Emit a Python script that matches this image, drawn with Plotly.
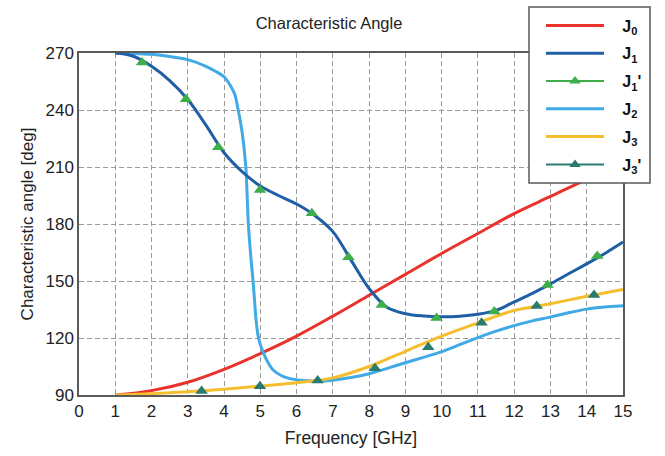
import plotly.graph_objects as go

# Frequency sweep (GHz) and characteristic angles (deg) for each mode
freq_j0 = [1, 2, 3, 4, 5, 6, 7, 8, 9, 10, 11, 12, 13, 14, 15]
ang_j0 = [90, 92.3, 96.7, 103.5, 111.8, 121, 131.5, 142.5, 153.5, 164.5, 175, 185.5, 194.5, 203.5, 212]

freq_j1 = [1, 1.5, 2, 2.5, 3, 3.5, 4, 4.5, 5, 5.5, 6, 6.5, 7, 7.5, 8, 8.5, 9, 9.5, 10,
           10.5, 11, 11.5, 12, 12.5, 13, 13.5, 14, 14.5, 15]
ang_j1 = [270, 268.3, 263, 255.5, 245.5, 232, 217.5, 207.5, 200, 195, 190.5, 184.5, 176,
          161, 146, 136, 132.8, 131.6, 131.2, 131.5, 132.5, 134.5, 139, 143.5, 148.5, 153.8,
          159, 164.5, 170.5]

freq_j1p = [1.74, 2.95, 3.84, 4.99, 6.42, 7.43, 8.35, 9.86, 11.45, 12.92, 14.29]
ang_j1p = [265, 245.6, 220.4, 197.9, 185.6, 162.5, 137.4, 130.5, 133.9, 147.9, 163.2]

freq_j2 = [1, 1.5, 2, 2.5, 3, 3.5, 3.8, 4, 4.2, 4.3, 4.39, 4.5, 4.6, 4.67, 4.75, 4.8, 4.88,
           4.94, 5.0, 5.1, 5.2, 5.36, 5.6, 5.82, 6.2, 6.6, 7, 7.5, 8, 8.5, 9, 9.5, 10, 10.5,
           11, 11.5, 12, 12.5, 13, 13.5, 14, 14.5, 15]
ang_j2 = [270, 269.8, 269.3, 268.2, 266.5, 263, 260, 257.5, 252, 248, 240, 228, 210, 180,
          160, 150, 130, 121, 116.5, 111.5, 107.5, 103, 100, 98.6, 97.6, 97.3, 97.8, 99.2,
          101.2, 104, 107, 109.8, 112.8, 116.5, 120.2, 123.6, 126.5, 129, 131, 133.3, 135.2,
          136.3, 137]

freq_j3 = [1, 2, 3, 4, 5, 6, 7, 8, 9, 10, 11, 12, 13, 14, 15]
ang_j3 = [90, 90.7, 91.7, 93, 94.7, 96.5, 99, 105, 113, 121, 128, 134.5, 138, 142, 145.6]

freq_j3p = [3.38, 4.99, 6.58, 8.16, 9.63, 11.1, 12.62, 14.2]
ang_j3p = [92.1, 94.6, 97.6, 104.1, 115.1, 128, 136.8, 142.6]

x_ticks = list(range(0, 16))
y_ticks = [90, 120, 150, 180, 210, 240, 270]

RED = "#E8322B"
DBLUE = "#1F5FA5"
LBLUE = "#3FAAE6"
YELLOW = "#F5BE2E"
GREEN = "#3DAE4A"
TEAL = "#2A7A6E"
LW = 3
PAD = "\u00a0\u00a0\u00a0"

fig = go.Figure()

def curve(x, y, name, color, rank, smoothing=1.0):
    fig.add_trace(go.Scatter(
        x=x, y=y, name=f"{PAD}<b>{name}</b>", mode="lines",
        line=dict(color=color, width=LW, shape="spline", smoothing=smoothing),
        legendgroup=name, legendrank=rank,
    ))

def points(x, y, name, color, rank):
    # measured points: markers on the plot, line+marker sample in the legend
    fig.add_trace(go.Scatter(
        x=x, y=y, mode="markers", showlegend=False, legendgroup=name,
        marker=dict(symbol="triangle-up", size=11, color=color),
    ))
    fig.add_trace(go.Scatter(
        x=[None], y=[None], name=f"{PAD}<b>{name}</b>", mode="lines+markers",
        line=dict(color=color, width=2),
        marker=dict(symbol="triangle-up", size=10, color=color),
        legendgroup=name, legendrank=rank,
    ))

curve(freq_j0, ang_j0, "J<sub>0</sub>", RED, 1)
curve(freq_j2, ang_j2, "J<sub>2</sub>", LBLUE, 4, smoothing=0.6)
curve(freq_j3, ang_j3, "J<sub>3</sub>", YELLOW, 5)
curve(freq_j1, ang_j1, "J<sub>1</sub>", DBLUE, 2)
points(freq_j1p, ang_j1p, "J<sub>1</sub>'", GREEN, 3)
points(freq_j3p, ang_j3p, "J<sub>3</sub>'", TEAL, 6)

W, H = 665, 456
L, R, T, B = 79, 42, 53, 61
FONT = "Liberation Sans, Arial"

grid = dict(showgrid=True, gridcolor="#9a9a9a", gridwidth=1, griddash="5px,3px",
            showline=True, linecolor="#5a5a5a", linewidth=1.5, mirror=True,
            ticks="", zeroline=False, automargin=False,
            tickfont=dict(family=FONT, size=17, color="#222"))

fig.update_xaxes(range=[0, 15], tickvals=x_ticks, **grid,
                 title=dict(text="Frequency [GHz]", standoff=12,
                            font=dict(family=FONT, size=17.5, color="#222")))
fig.update_yaxes(range=[90, 270], tickvals=y_ticks, **grid,
                 title=dict(text="Characteristic angle [deg]", standoff=8,
                            font=dict(family=FONT, size=17, color="#222")))

# legend frame
bx0, bx1, by0, by1 = 529, 650, 7, 183
fig.add_shape(type="rect", xref="paper", yref="paper", layer="above",
              x0=(bx0 - L) / (W - L - R), x1=(bx1 - L) / (W - L - R),
              y0=1 + (T - by1) / (H - T - B), y1=1 + (T - by0) / (H - T - B),
              line=dict(color="#5a5a5a", width=1.5), fillcolor="white")

fig.update_layout(
    width=W, height=H,
    margin=dict(l=L, r=R, t=T, b=B, autoexpand=False),
    paper_bgcolor="white", plot_bgcolor="white",
    title=dict(text="Characteristic Angle", x=329 / W, xanchor="center", y=1 - 23 / H,
               yanchor="middle", xref="container", yref="container",
               font=dict(family=FONT, size=16.5, color="#222")),
    legend=dict(
        x=(541 - L) / (W - L - R), xanchor="left",
        y=1 + (T - 8.5) / (H - T - B), yanchor="top",
        bgcolor="rgba(0,0,0,0)", borderwidth=0,
        traceorder="grouped", tracegroupgap=4, itemwidth=58,
        font=dict(family=FONT, size=16, color="#111"),
    ),
)

fig.write_html("out.html")
